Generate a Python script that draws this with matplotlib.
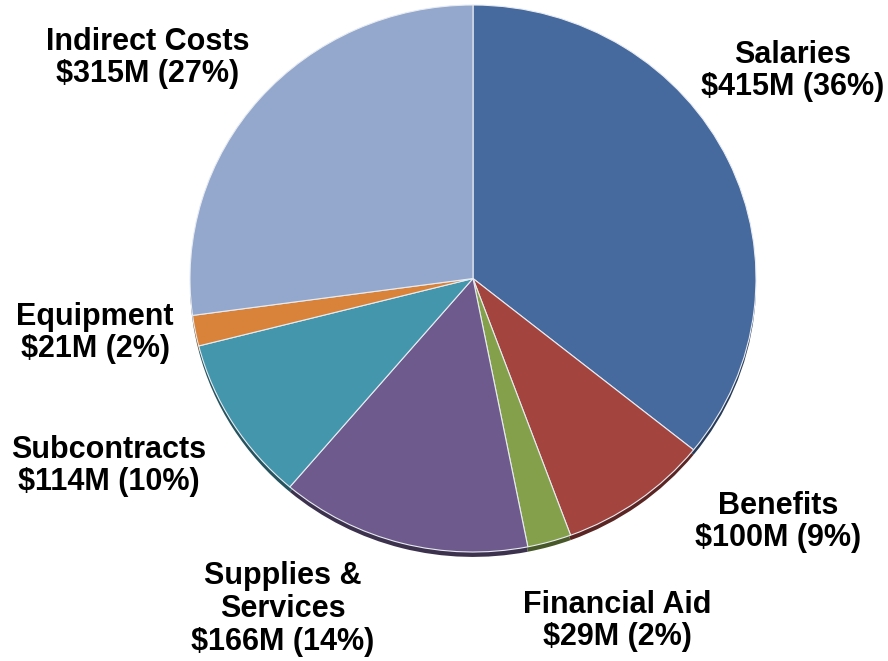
import matplotlib.pyplot as plt
import matplotlib.colors as mcolors

plt.rcParams['font.family'] = ['Liberation Sans', 'DejaVu Sans']

categories = ["Salaries", "Benefits", "Financial Aid", "Supplies &\nServices",
              "Subcontracts", "Equipment", "Indirect Costs"]
amounts = [415, 100, 29, 166, 114, 21, 315]
percents = [36, 9, 2, 14, 10, 2, 27]
colors = ["#46699E", "#A4443F", "#84A04B", "#6E5A8C", "#4396AB", "#D98239", "#93A8CC"]

# label centres in pixel coordinates (x, y from top)
label_pos = [(793, 71), (778, 522), (617, 621), (283, 609),
             (109, 466), (95, 333), (148, 58)]

fig = plt.figure(figsize=(8.88, 6.61), dpi=100)
W, H = 888, 661

# pie axes covering the (slightly squashed) pie ellipse
left, right, top, bottom = 190, 756, 5, 552
ax = fig.add_axes([left / W, 1 - bottom / H, (right - left) / W, (bottom - top) / H])

# thickness / shadow underneath
dark = [tuple(c * 0.55 for c in mcolors.to_rgb(col)) for col in colors]
ax.pie(amounts, colors=dark, startangle=90, counterclock=False, radius=1.0,
       center=(0, -0.018), wedgeprops=dict(linewidth=0))
ax.pie(amounts, colors=colors, startangle=90, counterclock=False, radius=1.0,
       center=(0, 0), wedgeprops=dict(edgecolor="#e8ecf2", linewidth=0.8))
ax.set_aspect('auto')
ax.set_xlim(-1.0, 1.0)
ax.set_ylim(-1.0, 1.0)
ax.axis('off')

# overlay for labels
tx = fig.add_axes([0, 0, 1, 1])
tx.set_xlim(0, W)
tx.set_ylim(H, 0)
tx.axis('off')
tx.patch.set_alpha(0)
for name, amt, pct, (x, y) in zip(categories, amounts, percents, label_pos):
    tx.text(x, y, f"{name}\n${amt}M ({pct}%)", ha="center", va="center",
            fontsize=22, fontweight="bold", color="black", linespacing=1.12)

fig.savefig("out.png", dpi=100)
